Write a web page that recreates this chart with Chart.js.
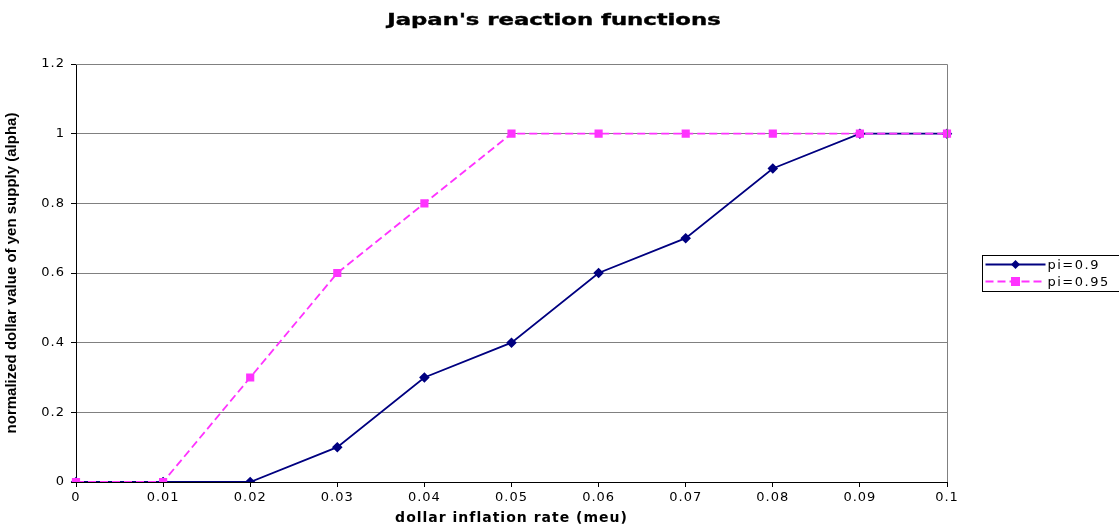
<!DOCTYPE html>
<html>
<head>
<meta charset="utf-8">
<script src="https://cdn.jsdelivr.net/npm/chart.js@4.4.1/dist/chart.umd.min.js"></script>
<style>
  html, body { margin: 0; padding: 0; background: #fff; }
  #wrap { width: 1119px; height: 527px; position: relative; }
</style>
</head>
<body>
<div id="wrap"><canvas id="chart" width="1119" height="527"></canvas></div>
<script>
// Dollar inflation rate (meu) categories
const categories = ['0', '0.01', '0.02', '0.03', '0.04', '0.05', '0.06', '0.07', '0.08', '0.09', '0.1'];
// Normalized dollar value of yen supply (alpha) for each pi
const seriesPi090 = [0, 0, 0, 0.1, 0.3, 0.4, 0.6, 0.7, 0.9, 1, 1];
const seriesPi095 = [0, 0, 0.3, 0.6, 0.8, 1, 1, 1, 1, 1, 1];
const seriesNames = ['pi=0.9', 'pi=0.95'];
const yTickValues = [0, 0.2, 0.4, 0.6, 0.8, 1, 1.2];

const chartTitle = "Japan's reaction functions";
const yAxisTitle = 'normalized dollar value of yen supply (alpha)';

const SANS = '"DejaVu Sans", Verdana, sans-serif';
const NARROW = '"Liberation Sans Narrow", "Arial Narrow", "Liberation Sans", Arial, sans-serif';

// Slightly wide, Verdana-like lettering for the library-drawn text
const spacingPlugin = {
  id: 'spacing',
  beforeDraw(chart) { chart.ctx.letterSpacing = '1px'; }
};

// Title, y-axis title, top/right frame and a boxed legend right of the plot
const framePlugin = {
  id: 'frame',
  afterDraw(chart) {
    const { ctx, chartArea: a } = chart;
    ctx.save();
    ctx.letterSpacing = '0px';

    // frame
    ctx.strokeStyle = '#808080';
    ctx.lineWidth = 1;
    ctx.beginPath();
    ctx.moveTo(a.left, a.top + 0.5);
    ctx.lineTo(a.right + 0.5, a.top + 0.5);
    ctx.lineTo(a.right + 0.5, a.bottom);
    ctx.stroke();

    // chart title, stretched horizontally
    ctx.save();
    ctx.fillStyle = '#000';
    ctx.strokeStyle = '#000';
    ctx.lineWidth = 0.4;
    ctx.font = 'bold 16px ' + SANS;
    ctx.textAlign = 'center';
    ctx.textBaseline = 'middle';
    ctx.translate(554, 21);
    ctx.scale(1.42, 1);
    ctx.fillText(chartTitle, 0, 0);
    ctx.strokeText(chartTitle, 0, 0);
    ctx.restore();

    // y-axis title, condensed
    ctx.save();
    ctx.fillStyle = '#000';
    ctx.font = 'bold 15px ' + NARROW;
    ctx.textAlign = 'center';
    ctx.textBaseline = 'middle';
    ctx.translate(12, (a.top + a.bottom) / 2);
    ctx.rotate(-Math.PI / 2);
    ctx.fillText(yAxisTitle, 0, 0);
    ctx.restore();

    // legend
    const x0 = 982.5, y0 = 255.5, w = 140, h = 36;
    ctx.strokeStyle = '#000';
    ctx.lineWidth = 1;
    ctx.strokeRect(x0, y0, w, h);
    ctx.font = '13px ' + SANS;
    ctx.letterSpacing = '1.5px';
    ctx.textBaseline = 'middle';
    chart.data.datasets.forEach((ds, i) => {
      const cy = y0 + 9 + i * 17;
      ctx.strokeStyle = ds.borderColor;
      ctx.lineWidth = 1.8;
      ctx.setLineDash(ds.borderDash || []);
      ctx.beginPath();
      ctx.moveTo(x0 + 3, cy);
      ctx.lineTo(x0 + 63, cy);
      ctx.stroke();
      ctx.setLineDash([]);
      ctx.fillStyle = ds.pointBackgroundColor;
      const mx = x0 + 33;
      if (ds.pointStyle === 'rectRot') {
        ctx.beginPath();
        ctx.moveTo(mx, cy - 4.5); ctx.lineTo(mx + 4.5, cy); ctx.lineTo(mx, cy + 4.5); ctx.lineTo(mx - 4.5, cy);
        ctx.closePath(); ctx.fill();
      } else {
        ctx.fillRect(mx - 4.5, cy - 4.5, 9, 9);
      }
      ctx.fillStyle = '#000';
      ctx.fillText(ds.label, x0 + 65, cy + 1);
    });
    ctx.restore();
  }
};

new Chart(document.getElementById('chart'), {
  type: 'line',
  data: {
    labels: categories,
    datasets: [
      {
        label: seriesNames[0],
        data: seriesPi090,
        borderColor: '#000080',
        backgroundColor: '#000080',
        pointBackgroundColor: '#000080',
        pointBorderColor: '#000080',
        pointStyle: 'rectRot',
        pointRadius: 4,
        borderWidth: 1.8,
        tension: 0,
        order: 2
      },
      {
        label: seriesNames[1],
        data: seriesPi095,
        borderColor: '#FF33FF',
        backgroundColor: '#FF33FF',
        pointBackgroundColor: '#FF33FF',
        pointBorderColor: '#FF33FF',
        pointStyle: 'rect',
        pointRadius: 4.5,
        borderWidth: 1.8,
        borderDash: [8, 4],
        tension: 0,
        order: 1
      }
    ]
  },
  options: {
    responsive: false,
    animation: false,
    layout: { padding: { left: 0, right: 172, top: 64, bottom: 0 } },
    plugins: {
      legend: { display: false },
      tooltip: { enabled: false },
      title: { display: false }
    },
    scales: {
      x: {
        type: 'category',
        offset: false,
        grid: {
          drawOnChartArea: false,
          drawTicks: true,
          tickLength: 5,
          tickColor: '#000'
        },
        border: { color: '#000', width: 1 },
        ticks: {
          color: '#000',
          font: { family: SANS, size: 13 },
          padding: 3,
          maxRotation: 0,
          autoSkip: false
        },
        title: {
          display: true,
          text: 'dollar inflation rate (meu)',
          color: '#000',
          font: { family: SANS, size: 14, weight: 'bold' },
          padding: { top: 3, bottom: 0 }
        },
        afterFit(scale) { scale.height = 45; }
      },
      y: {
        min: 0,
        max: 1.2,
        afterBuildTicks(scale) { scale.ticks = yTickValues.map(v => ({ value: v })); },
        grid: {
          color: '#808080',
          lineWidth: 1,
          drawTicks: true,
          tickLength: 5,
          tickColor: '#000'
        },
        border: { color: '#000', width: 1 },
        ticks: {
          color: '#000',
          font: { family: SANS, size: 13 },
          padding: 6,
          callback: v => String(v)
        },
        title: { display: false },
        afterFit(scale) { scale.width = 76; }
      }
    }
  },
  plugins: [spacingPlugin, framePlugin]
});
</script>
</body>
</html>
